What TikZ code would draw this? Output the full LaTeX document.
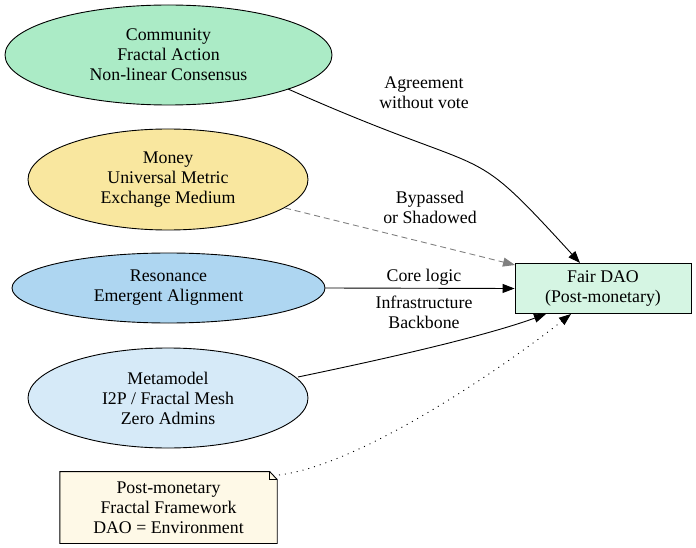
\documentclass[tikz,border=0pt]{standalone}
\usepackage{fontspec}
\setmainfont{Liberation Serif}
\usetikzlibrary{shapes.geometric,arrows.meta,backgrounds}
\definecolor{commfill}{HTML}{ABEBC6}
\definecolor{moneyfill}{HTML}{F9E79F}
\definecolor{resfill}{HTML}{AED6F1}
\definecolor{metafill}{HTML}{D6EAF8}
\definecolor{daofill}{HTML}{D5F5E3}
\definecolor{notefill}{HTML}{FEF9E7}
\tikzset{
  txt/.style={font=\fontsize{17.8}{20}\selectfont, align=center},
  ell/.style={txt, ellipse, draw=black, line width=0.9pt, inner sep=0pt},
  daobox/.style={txt, rectangle, draw=black, line width=0.9pt, fill=daofill, minimum width=176pt, minimum height=50.5pt, inner sep=0pt},
  notebox/.style={txt, rectangle, minimum width=217pt, minimum height=71.5pt, inner sep=0pt},
  lbl/.style={txt, inner sep=0pt},
  tip/.style={-{Triangle[length=12pt,width=9pt]}},
  conn/.style={tip, line width=0.9pt, draw=black},
}
\begin{document}
\begin{tikzpicture}[x=1pt,y=-1pt]
\useasboundingbox (0,0) rectangle (696,548);
\node[ell, fill=commfill, minimum width=327pt, minimum height=100pt] (comm) at (168.5,55) {Community\\Fractal Action\\Non-linear Consensus};
\node[ell, fill=moneyfill, minimum width=280pt, minimum height=101pt] (money) at (168,179.5) {Money\\Universal Metric\\Exchange Medium};
\node[ell, fill=resfill, minimum width=313pt, minimum height=70pt] (res) at (168.5,288) {Resonance\\Emergent Alignment};
\node[ell, fill=metafill, minimum width=280pt, minimum height=100pt] (meta) at (168,398) {Metamodel\\I2P / Fractal Mesh\\Zero Admins};
\node[daobox] (dao) at (603,288.5) {Fair DAO\\(Post-monetary)};
\node[notebox] (note) at (168.5,507.5) {Post-monetary\\Fractal Framework\\DAO = Environment};
\begin{scope}[on background layer]
\path[fill=notefill, draw=black, line width=0.9pt]
  (note.north west) -- ([xshift=-7.5pt]note.north east) -- ([yshift=-8pt]note.north east)
  -- (note.south east) -- (note.south west) -- cycle;
\draw[line width=0.9pt] ([xshift=-7.5pt]note.north east) -- ([xshift=-7.5pt,yshift=-8pt]note.north east) -- ([yshift=-8pt]note.north east);
\end{scope}
% connectors
\coordinate (commout) at (288,89);
\coordinate (daoA) at (580,263);
\draw[conn] (commout) .. controls (502,184) and (462,134) .. (daoA);
\coordinate (moneyout) at (285,208);
\coordinate (daoB) at (515,265);
\draw[conn, draw=gray, dash pattern=on 6pt off 4pt, -{Triangle[length=12pt,width=9pt,fill=gray]}] (moneyout) -- (daoB);
\draw[conn] (res.east) -- (dao.west);
\coordinate (metaout) at (298,377);
\coordinate (daoC) at (546,314);
\draw[conn] (metaout) .. controls (370,362) and (480,338) .. (daoC);
\coordinate (noteout) at (279,475);
\coordinate (daoD) at (571,314);
\draw[conn, dash pattern=on 1pt off 5pt] (noteout) .. controls (360,465) and (500,370) .. (daoD);
% labels
\node[lbl] (l1) at (424,93) {Agreement\\without vote};
\node[lbl] (l2) at (430,207) {Bypassed\\or Shadowed};
\node[lbl] (l3) at (424,277) {Core logic};
\node[lbl] (l4) at (424,312) {Infrastructure\\Backbone};
\end{tikzpicture}
\end{document}
